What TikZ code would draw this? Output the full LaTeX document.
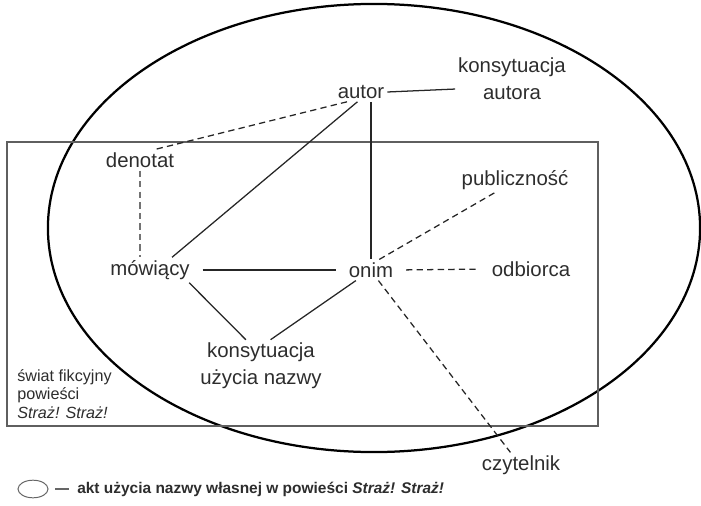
\documentclass[tikz,border=0pt]{standalone}
\usepackage{xcolor}
\usepackage{tikz}
\usepackage{fontspec}
\setmainfont{Liberation Sans}
\definecolor{labelgray}{RGB}{45, 45, 45}
\definecolor{framegray}{RGB}{95, 95, 95}
\usetikzlibrary{calc}

\begin{document}
\begin{tikzpicture}[
    x=0.025cm, y=-0.025cm,
    term/.style={font=\fontsize{14.5}{19.5}\selectfont, text=labelgray, inner sep=2pt, align=center},
    note/.style={font=\fontsize{11.5}{13.2}\selectfont, text=labelgray, inner sep=0pt, align=left, anchor=west},
    link/.style={line width=0.9pt, draw=black!85},
    dlink/.style={link, dash pattern=on 4.5pt off 3pt},
    gap/.style={shorten <=7pt, shorten >=7pt}
]
    \useasboundingbox (0,0) rectangle (701,505);

    \draw[line width=1.6pt] (374,228) ellipse [x radius=8.15cm, y radius=5.6cm];
    \draw[framegray, line width=1.2pt] (7,142) rectangle (598,426);

    \node[term] (autor) at (361,92) {autor};
    \node[term] (konsaut) at (512,79) {konsytuacja\\autora};
    \node[term] (denotat) at (140,160) {denotat};
    \node[term] (publ) at (515,180) {publiczność};
    \node[term] (mow) at (150,270) {mówiący};
    \node[term] (onim) at (371,270) {onim};
    \node[term] (odb) at (531,269) {odbiorca};
    \node[term] (konsuzy) at (261,366) {konsytuacja\\użycia nazwy};
    \node[term] (czyt) at (521,465) {czytelnik};
    \node[note] (swiat) at (17,394) {świat fikcyjny\\powieści\\\textit{Straż! Straż!}};

    \draw[link] (autor.east) -- (konsaut.190);
    \draw[dlink] (autor.215) -- (denotat.35);
    \draw[link] (autor.250) -- (mow.30);
    \draw[link] (autor.south -| onim.north) -- (onim.north);
    \draw[dlink, draw=black!55] (denotat.south) -- (denotat.south |- mow.north);
    \draw[link, gap] (mow.east) -- (onim.west);
    \draw[dlink, gap] (onim.east) -- (odb.west);
    \draw[dlink] (onim.52) -- (publ.212);
    \draw[dlink] (onim.-55) -- (czyt.130);
    \draw[link] (mow.-18) -- (konsuzy.120);
    \draw[link] (onim.215) -- (konsuzy.70);

    \draw[black!60, line width=0.7pt] (33,489) ellipse [x radius=0.375cm, y radius=0.22cm];
    \node[inner sep=0pt] (dash) at (62,489) {};
    \draw[black!60, line width=1.2pt] ($(dash)+(-7,0)$) -- ($(dash)+(7,0)$);
    \node[anchor=west, inner sep=0pt, text=labelgray, font=\fontsize{11}{12}\selectfont\bfseries] (legend) at (77,489)
        {akt użycia nazwy własnej w powieści \textit{Straż! Straż!}};
\end{tikzpicture}
\end{document}
